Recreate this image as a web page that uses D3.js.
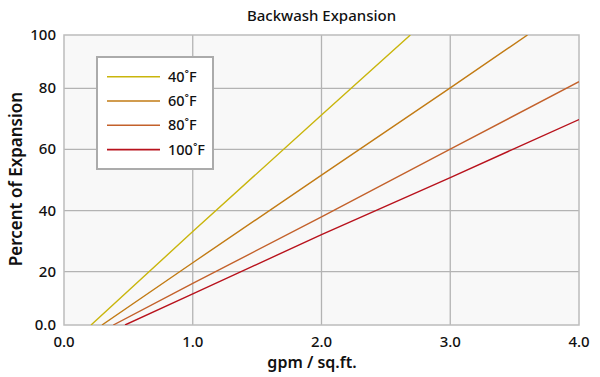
<!DOCTYPE html>
<html>
<head>
<meta charset="utf-8">
<script src="https://cdn.jsdelivr.net/npm/d3@7"></script>
<style>
  body { margin: 0; background: #fff; }
  text { font-family: "Noto Sans", "Open Sans", sans-serif; fill: #111; }
</style>
</head>
<body>
<div id="chart"></div>
<script>
var w = 600;
var h = 377;
var margin = {top: 35, right: 21, bottom: 52, left: 64};

// series as [gpm, percent]
var seriesNames = ["40˚F", "60˚F", "80˚F", "100˚F"];
var seriesColors = ["#c9b50c", "#c27b14", "#c3612b", "#b8121c"];
var temp40 = [[0.21, 2.5], [1.0, 33.1], [2.0, 71.3], [2.69, 97.5]];
var temp60 = [[0.295, 2.5], [1.0, 22.9], [2.0, 51.6], [3.0, 80.2], [3.6, 97.5]];
var temp80 = [[0.383, 2.5], [1.0, 16.1], [2.0, 37.9], [3.0, 60.1], [4.0, 82.2]];
var temp100 = [[0.474, 2.5], [1.0, 12.7], [2.0, 32.1], [3.0, 50.8], [4.0, 69.8]];
var seriesData = [temp40, temp60, temp80, temp100];

var xTicks = [0, 1, 2, 3, 4];
var xTickLabels = ["0.0", "1.0", "2.0", "3.0", "4.0"];
var yTicks = [2.5, 20, 40, 60, 80, 97.5];
var yTickLabels = ["0.0", "20", "40", "60", "80", "100"];

var xScale = d3.scaleLinear()
               .domain([0, 4])
               .range([margin.left, w - margin.right]);

var yScale = d3.scaleLinear()
               .domain([2.5, 97.5])
               .range([h - margin.bottom, margin.top]);

var svg = d3.select("#chart")
            .append("svg")
            .attr("width", w)
            .attr("height", h);

// plot background
svg.append("rect")
   .attr("x", xScale(0))
   .attr("y", yScale(97.5))
   .attr("width", xScale(4) - xScale(0))
   .attr("height", yScale(2.5) - yScale(97.5))
   .attr("fill", "#f8f8f8");

// grid
svg.selectAll("line.vgrid")
   .data(xTicks.slice(1, -1))
   .enter()
   .append("line")
   .attr("class", "vgrid")
   .attr("x1", function(d) { return xScale(d); })
   .attr("x2", function(d) { return xScale(d); })
   .attr("y1", yScale(97.5))
   .attr("y2", yScale(2.5))
   .attr("stroke", "#b3b3b3")
   .attr("stroke-width", 1.3);

svg.selectAll("line.hgrid")
   .data(yTicks.slice(1, -1))
   .enter()
   .append("line")
   .attr("class", "hgrid")
   .attr("x1", xScale(0))
   .attr("x2", xScale(4))
   .attr("y1", function(d) { return yScale(d); })
   .attr("y2", function(d) { return yScale(d); })
   .attr("stroke", "#b3b3b3")
   .attr("stroke-width", 1.3);

// frame
svg.append("rect")
   .attr("x", xScale(0))
   .attr("y", yScale(97.5))
   .attr("width", xScale(4) - xScale(0))
   .attr("height", yScale(2.5) - yScale(97.5))
   .attr("fill", "none")
   .attr("stroke", "#bcbcbc")
   .attr("stroke-width", 1.5);

// lines, clipped to the plot
svg.append("clipPath")
   .attr("id", "plotclip")
   .append("rect")
   .attr("x", xScale(0))
   .attr("y", yScale(97.5))
   .attr("width", xScale(4) - xScale(0))
   .attr("height", yScale(2.5) - yScale(97.5));

var line = d3.line()
             .x(function(d) { return xScale(d[0]); })
             .y(function(d) { return yScale(d[1]); });

svg.append("g")
   .attr("clip-path", "url(#plotclip)")
   .selectAll("path")
   .data(seriesData)
   .enter()
   .append("path")
   .attr("d", line)
   .attr("fill", "none")
   .attr("stroke", function(d, i) { return seriesColors[i]; })
   .attr("stroke-width", 1.4);

// tick labels
svg.selectAll("text.xtick")
   .data(xTicks)
   .enter()
   .append("text")
   .attr("class", "xtick")
   .attr("x", function(d) { return xScale(d); })
   .attr("y", 347)
   .attr("text-anchor", "middle")
   .attr("font-size", "15px")
   .attr("font-weight", 500)
   .text(function(d, i) { return xTickLabels[i]; });

svg.selectAll("text.ytick")
   .data(yTicks)
   .enter()
   .append("text")
   .attr("class", "ytick")
   .attr("x", 56)
   .attr("y", function(d) { return yScale(d) + 5; })
   .attr("text-anchor", "end")
   .attr("font-size", "15px")
   .attr("font-weight", 500)
   .text(function(d, i) { return yTickLabels[i]; });

// titles
svg.append("text")
   .attr("x", (xScale(0) + xScale(4)) / 2)
   .attr("y", 21)
   .attr("text-anchor", "middle")
   .attr("font-size", "15px")
   .attr("font-weight", 500)
   .text("Backwash Expansion");

svg.append("text")
   .attr("x", 312)
   .attr("y", 368)
   .attr("text-anchor", "middle")
   .attr("font-size", "16px")
   .attr("font-weight", 600)
   .text("gpm / sq.ft.");

svg.append("text")
   .attr("transform", "translate(22," + (yScale(50) - 1) + ") rotate(-90)")
   .attr("text-anchor", "middle")
   .attr("font-size", "17px")
   .attr("font-weight", 600)
   .text("Percent of Expansion");

// legend
var legend = svg.append("g");

legend.append("rect")
      .attr("x", 97)
      .attr("y", 57)
      .attr("width", 116)
      .attr("height", 112)
      .attr("fill", "#fff")
      .attr("stroke", "#ababab")
      .attr("stroke-width", 2);

var items = legend.selectAll("g.item")
                  .data(seriesNames)
                  .enter()
                  .append("g")
                  .attr("class", "item")
                  .attr("transform", function(d, i) { return "translate(0," + (76.7 + i * 24.3) + ")"; });

items.append("line")
     .attr("x1", 107)
     .attr("x2", 160)
     .attr("stroke", function(d, i) { return seriesColors[i]; })
     .attr("stroke-width", 1.6);

items.append("text")
     .attr("x", 168)
     .attr("y", 5)
     .attr("font-size", "14.5px")
     .attr("font-weight", 500)
     .text(function(d) { return d; });
</script>
</body>
</html>
